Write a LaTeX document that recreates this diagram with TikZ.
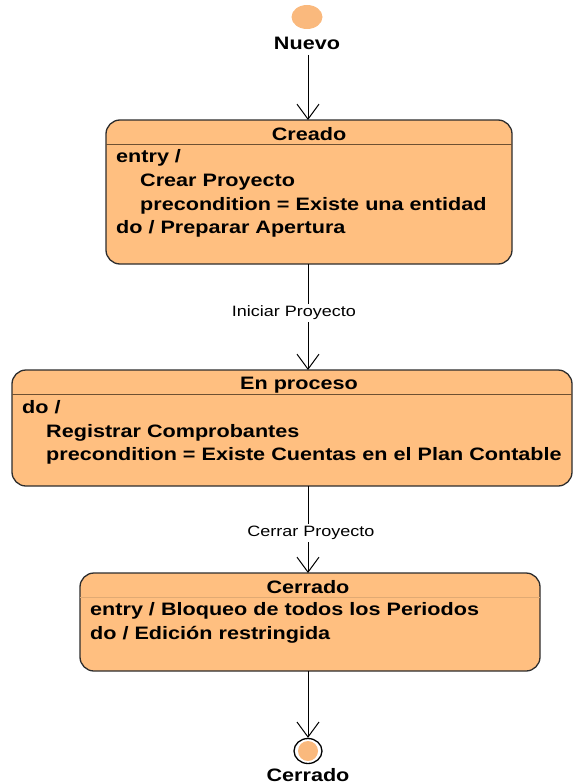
\documentclass[tikz,border=0pt]{standalone}
\usepackage{fontspec}
\setmainfont[FakeStretch=1.2]{Liberation Sans}
\usetikzlibrary{arrows.meta,shapes.geometric}
\definecolor{stfill}{RGB}{255,191,128}
\definecolor{initfill}{RGB}{250,185,125}
\definecolor{stdraw}{RGB}{45,45,45}
\definecolor{sepdark}{RGB}{110,80,50}
\definecolor{seplight}{RGB}{225,170,115}
\tikzset{
  statebox/.style={draw=stdraw, fill=stfill, line width=1.3pt, rounded corners=14pt, inner sep=0pt},
  bodytxt/.style={anchor=west, inner sep=0pt, yshift=-2pt, font=\fontsize{18}{22}\selectfont\bfseries, text height=13pt, text depth=4pt},
  titletxt/.style={inner sep=0pt, yshift=-2pt, font=\fontsize{18}{22}\selectfont\bfseries, text height=13pt, text depth=4pt},
  lbltxt/.style={fill=white, inner sep=2pt, yshift=-1.5pt, font=\fontsize{15}{18}\selectfont, text height=11pt, text depth=3pt},
  trans/.style={draw=black, line width=1pt, -{Straight Barb[length=15pt,width=22pt,line width=1pt]}},
}
\begin{document}
\begin{tikzpicture}[x=1pt,y=-1pt]
\useasboundingbox (0,0) rectangle (574,784);
% initial state
\node[ellipse, draw=none, fill=initfill, minimum width=31pt, minimum height=24pt, inner sep=0pt] (ini) at (307,17) {};
\node[titletxt] (nuevo) at (307,43) {Nuevo};
\coordinate (inistart) at (308,55);
% Creado
\node[statebox, minimum width=406pt, minimum height=144pt] (creado) at (309,192) {};
\node[titletxt] (creadoT) at (309,134) {Creado};
\coordinate (cs1) at (106,144); \coordinate (cs2) at (512,144);
\draw[sepdark, line width=1pt] (cs1) -- (cs2);
\node[bodytxt] (c1) at (116,156) {entry /};
\node[bodytxt] (c2) at (140,180) {Crear Proyecto};
\node[bodytxt] (c3) at (140,204) {precondition = Existe una entidad};
\node[bodytxt] (c4) at (116,227) {do / Preparar Apertura};
% En proceso
\node[statebox, minimum width=560pt, minimum height=116pt] (proc) at (292,428) {};
\node[titletxt] (procT) at (299,383) {En proceso};
\coordinate (ps1) at (12,394); \coordinate (ps2) at (572,394);
\draw[sepdark, line width=1pt] (ps1) -- (ps2);
\node[bodytxt] (p1) at (22,407) {do /};
\node[bodytxt] (p2) at (46,431) {Registrar Comprobantes};
\node[bodytxt] (p3) at (46,454) {precondition = Existe Cuentas en el Plan Contable};
% Cerrado
\node[statebox, minimum width=460pt, minimum height=98pt] (cerr) at (310,622) {};
\node[titletxt] (cerrT) at (308,587) {Cerrado};
\coordinate (es1) at (80,597); \coordinate (es2) at (540,597);
\draw[seplight, line width=1pt] (es1) -- (es2);
\node[bodytxt] (e1) at (90,609) {entry / Bloqueo de todos los Periodos};
\node[bodytxt] (e2) at (90,633) {do / Edición restringida};
% final state
\node[ellipse, draw=black, line width=1.3pt, fill=white, minimum width=28pt, minimum height=25pt, inner sep=0pt] (fin) at (308,751) {};
\node[circle, fill=initfill, minimum size=20pt, inner sep=0pt] (finin) at (fin.center) {};
\node[titletxt] (cerrado) at (308,775) {Cerrado};
% transitions
\coordinate (ct) at (308,120);
\draw[trans] (inistart) -- (ct);
\coordinate (cb) at (308,264);
\coordinate (pt) at (308,370);
\draw[trans] (cb) -- (pt);
\node[lbltxt] (l1) at (294,311) {Iniciar Proyecto};
\coordinate (pb) at (308,486);
\coordinate (et) at (308,573);
\draw[trans] (pb) -- (et);
\node[lbltxt] (l2) at (311,531) {Cerrar Proyecto};
\coordinate (eb) at (308,671);
\draw[trans] (eb) -- (fin.north);
\end{tikzpicture}
\end{document}
